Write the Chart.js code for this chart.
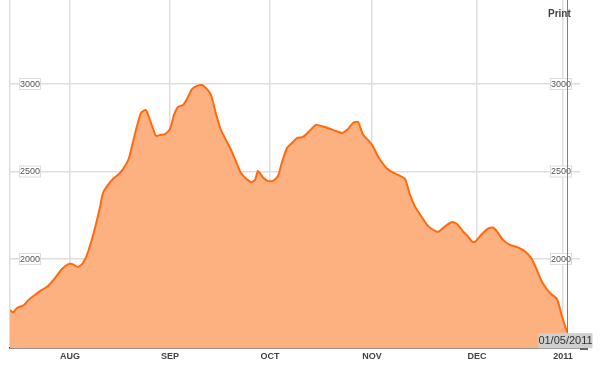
<!DOCTYPE html>
<html>
<head>
<meta charset="utf-8">
<script src="https://cdn.jsdelivr.net/npm/chart.js@4/dist/chart.umd.min.js"></script>
<style>
  body { margin: 0; background: #fff; }
  #wrap { position: relative; width: 601px; height: 365px; }
  #print { position: absolute; left: 548px; top: 8px; font: bold 10px "Liberation Sans", Arial, sans-serif; color: #444; }
</style>
</head>
<body>
<div id="wrap">
  <canvas id="chart" width="601" height="365"></canvas>
  <div id="print">Print</div>
</div>
<script>
// 取引日インデックス（開始日=0）
const dayIndex = [
  0, 0.6, 1.4, 2.8, 3.6, 5.2, 6.4, 7.6, 9, 10.4, 11.6, 12.4, 13.6, 14.6, 15.6, 17, 18, 18.6, 19.6, 20.6,
  22, 23, 23.8, 24.6, 25.4, 26.2, 27.2, 28.4, 29.2, 30, 31, 32, 32.8, 33.6, 34.6, 35.4, 36.4, 37.4, 38.4, 39.4,
  40.2, 41.2, 42.2, 43.4, 44.4, 45.4, 46.2, 47.2, 48.2, 49, 49.6, 50.6, 51.6, 52.6, 53.6, 54.4, 55.4, 56.4, 57.4, 58.6,
  59.6, 61.2, 63, 65.4, 66.4, 67.6, 68.6, 69.6, 70.6, 71.6, 72.6, 73.6, 75, 76, 77.6, 79, 80, 81, 82.4, 83.6,
  85, 85.8, 87, 88.4, 89.4, 90.6, 91.6, 92.4, 93, 94.4, 95.6, 96.6, 97.4, 98.6, 100, 101.6, 103, 104.2, 105.2, 106.2,
  107.2, 108.2, 109.4, 110.4, 111.4
];

// 価格
const prices = [
  1709, 1694, 1720, 1737, 1763, 1800, 1823, 1846, 1891, 1943, 1969, 1971, 1954, 1977, 2040, 2177, 2297, 2377, 2423, 2457,
  2491, 2531, 2577, 2669, 2760, 2834, 2851, 2760, 2703, 2709, 2714, 2743, 2823, 2869, 2880, 2914, 2971, 2989, 2994, 2971,
  2937, 2829, 2737, 2669, 2611, 2543, 2491, 2460, 2440, 2451, 2503, 2466, 2446, 2446, 2474, 2554, 2634, 2663, 2691, 2697,
  2723, 2766, 2754, 2729, 2720, 2743, 2777, 2783, 2711, 2680, 2643, 2586, 2529, 2503, 2480, 2457, 2366, 2300, 2237, 2189,
  2160, 2157, 2186, 2211, 2200, 2157, 2129, 2100, 2097, 2143, 2174, 2180, 2157, 2109, 2080, 2066, 2043, 2006, 1949, 1880,
  1834, 1800, 1771, 1671, 1583
];

// 月の目盛り
const monthTicks = [12, 32, 52, 72.4, 93.4, 110.6];
const monthLabels = ['AUG', 'SEP', 'OCT', 'NOV', 'DEC', '2011'];

// 価格の目盛り
const priceTicks = [2000, 2500, 3000];

const lastDate = '01/05/2011';

const FONT = '"Liberation Sans", Arial, sans-serif';

// 価格ラベル（左右の白い箱）と最終日のライン
const overlayPlugin = {
  id: 'overlay',
  afterDraw(chart) {
    const { ctx, chartArea, scales } = chart;
    ctx.save();

    // 下の軸線を右へ少し延長
    ctx.strokeStyle = '#222';
    ctx.lineWidth = 1.5;
    ctx.beginPath();
    ctx.moveTo(chartArea.right, chartArea.bottom + 0.75);
    ctx.lineTo(chartArea.right + 8, chartArea.bottom + 0.75);
    ctx.stroke();

    ctx.font = '9px ' + FONT;
    ctx.textAlign = 'center';
    ctx.textBaseline = 'middle';
    priceTicks.forEach((v) => {
      const y = scales.y.getPixelForValue(v);
      [chartArea.left + 20, chartArea.right - 19].forEach((cx) => {
        ctx.fillStyle = '#fff';
        ctx.fillRect(cx - 11, y - 6, 22, 12);
        ctx.strokeStyle = '#dcdcdc';
        ctx.lineWidth = 1;
        ctx.strokeRect(cx - 10.5, y - 5.5, 21, 11);
        ctx.fillStyle = '#555';
        ctx.fillText(String(v), cx, y + 0.5);
      });
    });

    // 最終日の縦線
    const lx = Math.round(scales.x.getPixelForValue(dayIndex[dayIndex.length - 1])) + 0.5;
    ctx.strokeStyle = '#d8652f';
    ctx.lineWidth = 1;
    ctx.beginPath();
    ctx.moveTo(lx, chartArea.top);
    ctx.lineTo(lx, chartArea.bottom);
    ctx.stroke();

    // 日付ラベル
    ctx.font = '11px ' + FONT;
    const w = 54;
    const bx = lx - 29;
    const by = chartArea.bottom - 15;
    ctx.fillStyle = '#cfcfcf';
    ctx.fillRect(bx, by, w, 15);
    ctx.fillStyle = '#333';
    ctx.fillText(lastDate, bx + w / 2, by + 8);
    ctx.restore();
  }
};

new Chart(document.getElementById('chart'), {
  type: 'line',
  data: {
    datasets: [{
      data: dayIndex.map((d, i) => ({ x: d, y: prices[i] })),
      borderColor: '#ff6a0d',
      borderWidth: 2,
      backgroundColor: '#fdb080',
      fill: 'start',
      pointRadius: 0,
      tension: 0.2,
    }]
  },
  options: {
    responsive: false,
    animation: false,
    layout: { padding: { left: 10, right: 21, top: 0, bottom: 0 } },
    plugins: { legend: { display: false }, tooltip: { enabled: false } },
    scales: {
      x: {
        type: 'linear',
        min: 0,
        max: 114,
        afterBuildTicks: (axis) => {
          axis.ticks = [0, ...monthTicks].map((v) => ({ value: v }));
        },
        ticks: {
          autoSkip: false,
          maxRotation: 0,
          padding: 3,
          color: '#444',
          font: { family: FONT, size: 9, weight: 'bold' },
          callback: (value) => {
            const i = monthTicks.indexOf(value);
            return i >= 0 ? monthLabels[i] : '';
          },
        },
        grid: { color: '#dedede', lineWidth: 1.5, drawTicks: false },
        border: { display: true, color: '#222', width: 1.5 },
      },
      y: {
        min: 1490,
        max: 3480,
        afterBuildTicks: (axis) => {
          axis.ticks = priceTicks.map((v) => ({ value: v }));
        },
        ticks: { display: false },
        grid: { color: '#dedede', lineWidth: 1.5, drawTicks: false },
        border: { display: false },
      },
    },
  },
  plugins: [overlayPlugin],
});
</script>
</body>
</html>
